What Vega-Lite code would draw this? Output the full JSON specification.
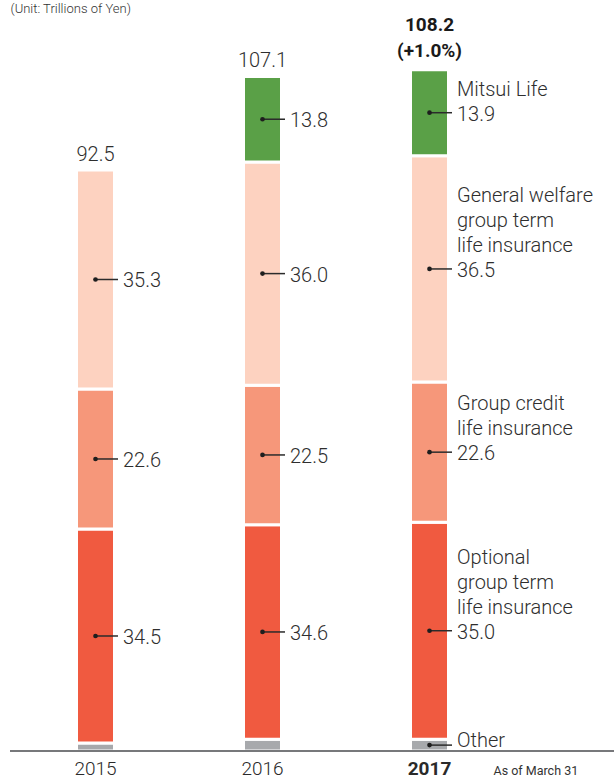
{
  "$schema": "https://vega.github.io/schema/vega-lite/v6.json",
  "width": 604,
  "height": 751,
  "autosize": {"type": "none"},
  "padding": {"left": 10, "top": 0, "right": 0, "bottom": 27},
  "background": "white",
  "config": {
    "view": {"stroke": null},
    "font": "Roboto",
    "text": {"font": "Roboto"}
  },
  "datasets": {
    "segments": [
      {"year": "2015", "category": "Other", "order": 0, "value": 1.3, "valueText": null, "name": null},
      {"year": "2015", "category": "Optional group term life insurance", "order": 1, "value": 34.5, "valueText": "34.5", "name": null},
      {"year": "2015", "category": "Group credit life insurance", "order": 2, "value": 22.6, "valueText": "22.6", "name": null},
      {"year": "2015", "category": "General welfare group term life insurance", "order": 3, "value": 35.3, "valueText": "35.3", "name": null},
      {"year": "2016", "category": "Other", "order": 0, "value": 1.9, "valueText": null, "name": null},
      {"year": "2016", "category": "Optional group term life insurance", "order": 1, "value": 34.6, "valueText": "34.6", "name": null},
      {"year": "2016", "category": "Group credit life insurance", "order": 2, "value": 22.5, "valueText": "22.5", "name": null},
      {"year": "2016", "category": "General welfare group term life insurance", "order": 3, "value": 36.0, "valueText": "36.0", "name": null},
      {"year": "2016", "category": "Mitsui Life", "order": 4, "value": 13.8, "valueText": "13.8", "name": null},
      {"year": "2017", "category": "Other", "order": 0, "value": 1.9, "valueText": null, "name": "Other"},
      {"year": "2017", "category": "Optional group term life insurance", "order": 1, "value": 35.0, "valueText": "35.0", "name": "Optional\ngroup term\nlife insurance"},
      {"year": "2017", "category": "Group credit life insurance", "order": 2, "value": 22.6, "valueText": "22.6", "name": "Group credit\nlife insurance"},
      {"year": "2017", "category": "General welfare group term life insurance", "order": 3, "value": 36.5, "valueText": "36.5", "name": "General welfare\ngroup term\nlife insurance"},
      {"year": "2017", "category": "Mitsui Life", "order": 4, "value": 13.9, "valueText": "13.9", "name": "Mitsui Life"}
    ],
    "totals": [
      {"year": "2015", "total": "92.5"},
      {"year": "2016", "total": "107.1"},
      {"year": "2017", "total": "108.2\n(+1.0%)"}
    ]
  },
  "data": {"name": "segments"},
  "layer": [
    {
      "mark": {"type": "bar", "width": 38, "stroke": "white", "strokeWidth": 3},
      "encoding": {
        "x": {
          "field": "year", "type": "nominal",
          "scale": {"type": "band", "domain": ["2015", "2016", "2017"], "range": [2, 503], "paddingInner": 0, "paddingOuter": 0},
          "axis": {
            "title": "As of March 31",
            "titleX": 483, "titleY": 23, "titleAnchor": "start", "titleAlign": "left", "titleBaseline": "alphabetic",
            "titleFontSize": 12.5, "titleFontWeight": "normal", "titleColor": "#333333", "titleFont": "Roboto",
            "domain": false, "ticks": false, "labelPadding": 23, "labelBaseline": "alphabetic",
            "labelAngle": 0, "labelFontSize": 19, "labelColor": "#2a2a2a", "labelFont": "Roboto",
            "labelFontWeight": {"condition": {"test": "datum.value === '2017'", "value": "bold"}, "value": 300}
          }
        },
        "y": {
          "field": "value", "type": "quantitative", "stack": "zero",
          "scale": {"domain": [0, 121.13], "nice": false, "zero": true},
          "axis": {
            "title": "(Unit: Trillions of Yen)",
            "titleAngle": 0, "titleX": 0, "titleY": 12, "titleAlign": "left", "titleAnchor": "start", "titleBaseline": "alphabetic",
            "titleFontSize": 13, "titleFontWeight": 300, "titleColor": "#333333", "titleFont": "Roboto",
            "domain": false, "ticks": false, "labels": false, "grid": false
          }
        },
        "order": {"field": "order", "type": "quantitative"},
        "color": {
          "field": "category", "type": "nominal", "legend": null,
          "scale": {
            "domain": ["Other", "Optional group term life insurance", "Group credit life insurance", "General welfare group term life insurance", "Mitsui Life"],
            "range": ["#a7a9ac", "#f05a40", "#f6977a", "#fdd2c0", "#5aa047"]
          }
        }
      }
    },
    {
      "mark": {"type": "rule", "color": "#77787b", "strokeWidth": 1.5},
      "encoding": {"y": {"datum": 0, "type": "quantitative"}}
    },
    {
      "transform": [
        {"stack": "value", "groupby": ["year"], "sort": [{"field": "order", "order": "ascending"}], "as": ["y0", "y1"]},
        {"filter": "datum.valueText != null || datum.name != null"},
        {"fold": ["y0", "y1"], "as": ["edge", "pos"]}
      ],
      "layer": [
        {
          "mark": {"type": "rule", "color": "#2b2b2b", "strokeWidth": 1.5, "x2Offset": 22.5},
          "encoding": {
            "x": {"field": "year", "type": "nominal", "bandPosition": 0.5},
            "x2": {"field": "year", "bandPosition": 0.5},
            "y": {"field": "pos", "aggregate": "mean", "type": "quantitative"},
            "detail": {"field": "category"}
          }
        },
        {
          "mark": {"type": "point", "filled": true, "size": 22, "color": "#1e1e1e", "opacity": 1},
          "encoding": {
            "x": {"field": "year", "type": "nominal", "bandPosition": 0.5},
            "y": {"field": "pos", "aggregate": "mean", "type": "quantitative"},
            "detail": {"field": "category"}
          }
        },
        {
          "transform": [{"filter": "datum.valueText != null"}],
          "mark": {"type": "text", "align": "left", "baseline": "alphabetic", "dx": 27.5, "dy": 8, "fontSize": 20, "fontWeight": 300, "color": "#2e2e2e"},
          "encoding": {
            "x": {"field": "year", "type": "nominal", "bandPosition": 0.5},
            "y": {"field": "pos", "aggregate": "mean", "type": "quantitative"},
            "text": {"field": "valueText"}
          }
        },
        {
          "transform": [{"filter": "datum.name != null && datum.category === 'Mitsui Life'"}],
          "mark": {"type": "text", "align": "left", "baseline": "alphabetic", "dx": 27.5, "dy": -17, "fontSize": 20, "fontWeight": 300, "lineHeight": 25, "lineBreak": "\n", "color": "#2e2e2e"},
          "encoding": {
            "x": {"field": "year", "type": "nominal", "bandPosition": 0.5},
            "y": {"field": "pos", "aggregate": "mean", "type": "quantitative"},
            "text": {"field": "name"}
          }
        },
        {
          "transform": [{"filter": "datum.name != null && datum.category === 'Group credit life insurance'"}],
          "mark": {"type": "text", "align": "left", "baseline": "alphabetic", "dx": 27.5, "dy": -42, "fontSize": 20, "fontWeight": 300, "lineHeight": 25, "lineBreak": "\n", "color": "#2e2e2e"},
          "encoding": {
            "x": {"field": "year", "type": "nominal", "bandPosition": 0.5},
            "y": {"field": "pos", "aggregate": "mean", "type": "quantitative"},
            "text": {"field": "name"}
          }
        },
        {
          "transform": [{"filter": "datum.name != null && (datum.category === 'General welfare group term life insurance' || datum.category === 'Optional group term life insurance')"}],
          "mark": {"type": "text", "align": "left", "baseline": "alphabetic", "dx": 27.5, "dy": -67, "fontSize": 20, "fontWeight": 300, "lineHeight": 25, "lineBreak": "\n", "color": "#2e2e2e"},
          "encoding": {
            "x": {"field": "year", "type": "nominal", "bandPosition": 0.5},
            "y": {"field": "pos", "aggregate": "mean", "type": "quantitative"},
            "text": {"field": "name"}
          }
        },
        {
          "transform": [{"filter": "datum.name != null && datum.category === 'Other'"}],
          "mark": {"type": "text", "align": "left", "baseline": "alphabetic", "dx": 27.5, "dy": 2, "fontSize": 20, "fontWeight": 300, "color": "#2e2e2e"},
          "encoding": {
            "x": {"field": "year", "type": "nominal", "bandPosition": 0.5},
            "y": {"field": "pos", "aggregate": "mean", "type": "quantitative"},
            "text": {"field": "name"}
          }
        }
      ]
    },
    {
      "transform": [
        {"filter": "datum.year !== '2017'"},
        {"lookup": "year", "from": {"data": {"name": "totals"}, "key": "year", "fields": ["total"]}}
      ],
      "mark": {"type": "text", "align": "center", "baseline": "alphabetic", "dy": -9, "fontSize": 20, "fontWeight": 300, "color": "#2e2e2e"},
      "encoding": {
        "x": {"field": "year", "type": "nominal", "bandPosition": 0.5},
        "y": {"field": "value", "aggregate": "sum", "type": "quantitative"},
        "text": {"field": "total"}
      }
    },
    {
      "transform": [
        {"filter": "datum.year === '2017'"},
        {"lookup": "year", "from": {"data": {"name": "totals"}, "key": "year", "fields": ["total"]}}
      ],
      "mark": {"type": "text", "align": "center", "baseline": "alphabetic", "dy": -39, "fontSize": 19, "fontWeight": "bold", "lineHeight": 26, "lineBreak": "\n", "color": "#1a1a1a"},
      "encoding": {
        "x": {"field": "year", "type": "nominal", "bandPosition": 0.5},
        "y": {"field": "value", "aggregate": "sum", "type": "quantitative"},
        "text": {"field": "total"}
      }
    }
  ]
}
